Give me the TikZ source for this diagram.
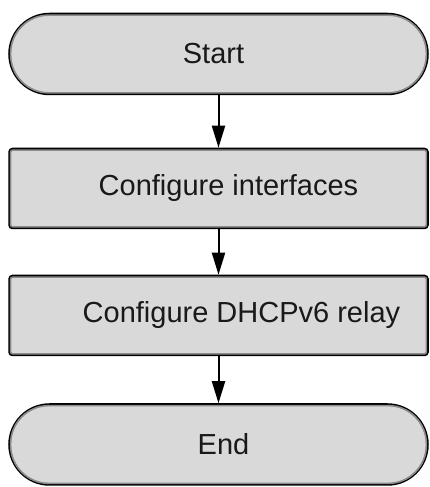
\documentclass[tikz,border=0pt]{standalone}
\usepackage{fontspec}
\setmainfont{Liberation Sans}
\usetikzlibrary{arrows.meta}
\definecolor{boxfill}{HTML}{D9D9D9}
\definecolor{innerline}{HTML}{8C8C8C}
\tikzset{
  term/.style={draw=black, fill=boxfill, line width=2.5pt, rounded corners=40pt,
    minimum width=418pt, minimum height=80pt, inner sep=0pt,
    font=\fontsize{29}{34}\selectfont, text=black!90},
  procbox/.style={draw=black, fill=boxfill, line width=2.5pt, rounded corners=3pt,
    minimum width=418pt, minimum height=79pt, inner sep=0pt,
    font=\fontsize{29}{34}\selectfont, text=black!90},
  innerterm/.style={draw=innerline, line width=1.6pt, rounded corners=38pt},
  innerbox/.style={draw=innerline, line width=1.6pt, rounded corners=2pt},
  flow/.style={line width=2pt, -{Triangle[length=22pt,width=13pt]}}
}
\begin{document}
\begin{tikzpicture}[x=1pt,y=1pt]
\useasboundingbox (0,0) rectangle (430,487);
\node[term] (start) at (218.5,433) {};
\node[procbox] (conf) at (218.5,298.5) {};
\node[procbox] (relay) at (218.5,171.5) {};
\node[term] (end) at (218.5,42.5) {};
\draw[innerterm] ([shift={(2.4pt,2.4pt)}]start.south west) rectangle ([shift={(-2.4pt,-2.4pt)}]start.north east);
\draw[innerbox] ([shift={(2.4pt,2.4pt)}]conf.south west) rectangle ([shift={(-2.4pt,-2.4pt)}]conf.north east);
\draw[innerbox] ([shift={(2.4pt,2.4pt)}]relay.south west) rectangle ([shift={(-2.4pt,-2.4pt)}]relay.north east);
\draw[innerterm] ([shift={(2.4pt,2.4pt)}]end.south west) rectangle ([shift={(-2.4pt,-2.4pt)}]end.north east);
\node[font=\fontsize{29}{34}\selectfont, text=black!90] (startlbl) at ([xshift=-5pt]start.center) {Start};
\node[font=\fontsize{29}{34}\selectfont, text=black!90] (conflbl) at ([xshift=10pt]conf.center) {Configure interfaces};
\node[font=\fontsize{29}{34}\selectfont, text=black!90] (relaylbl) at ([xshift=23pt]relay.center) {Configure DHCPv6 relay};
\node[font=\fontsize{29}{34}\selectfont, text=black!90] (endlbl) at ([xshift=5pt]end.center) {End};
\draw[flow] (start.south) -- (conf.north);
\draw[flow] (conf.south) -- (relay.north);
\draw[flow] (relay.south) -- (end.north);
\end{tikzpicture}
\end{document}
